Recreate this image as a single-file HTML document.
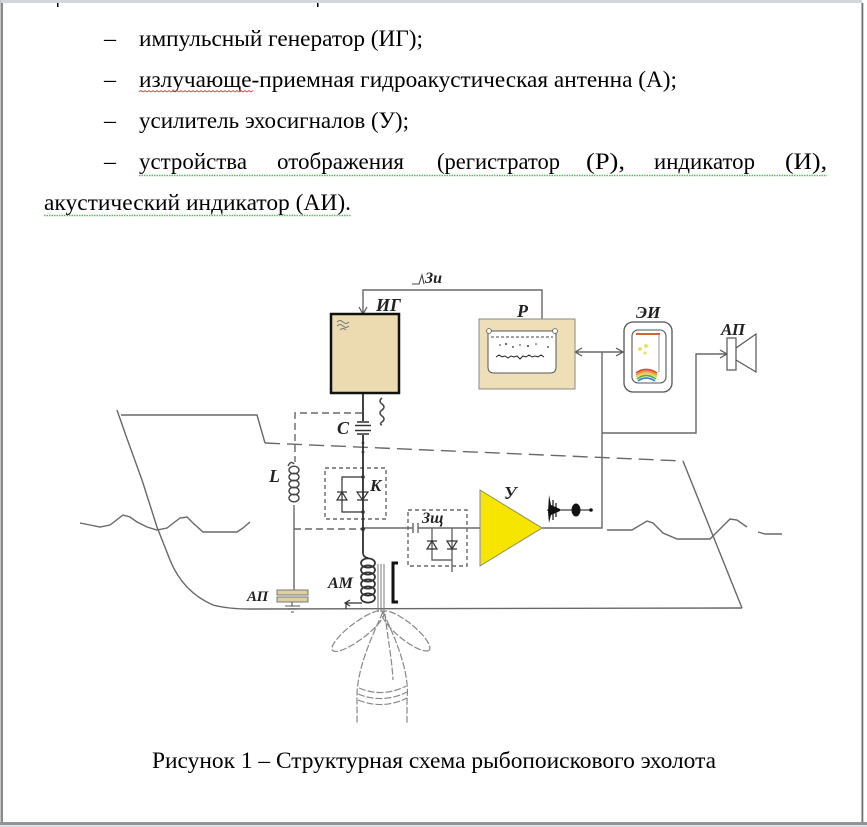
<!DOCTYPE html>
<html><head><meta charset="utf-8"><style>
html,body{margin:0;padding:0;background:#fff;}
svg{display:block;}
.t{font-family:"Liberation Serif","Noto Serif CJK SC",serif;font-size:23px;fill:#000;}
.l{font-family:"Liberation Serif",serif;font-weight:bold;font-style:italic;fill:#222;}
</style></head><body>
<svg width="867" height="827" viewBox="0 0 867 827" xmlns="http://www.w3.org/2000/svg">
<rect width="867" height="827" fill="#fff"/>
<!-- page frame -->
<rect x="0" y="0" width="862" height="3" fill="#d3d6dc"/>
<rect x="0" y="0" width="1" height="822" fill="#c4c4c4"/>
<rect x="1" y="3" width="2" height="819" fill="#8a8a8a"/>
<rect x="861.5" y="3" width="1.8" height="819" fill="#6e6e6e"/>
<rect x="0" y="822" width="867" height="3" fill="#8f959c"/>
<rect x="0" y="825" width="867" height="2" fill="#dde1e6"/>
<!-- cut-off line fragments -->
<rect x="57" y="3" width="1.5" height="4" fill="#000"/>
<rect x="317" y="3" width="1.5" height="4" fill="#000"/>

<!-- text -->
<g class="t">
<text x="104" y="46" textLength="12" lengthAdjust="spacingAndGlyphs">–</text>
<text x="139" y="46" textLength="284" lengthAdjust="spacingAndGlyphs">импульсный генератор (ИГ);</text>
<text x="104" y="87" textLength="12" lengthAdjust="spacingAndGlyphs">–</text>
<text x="139" y="87" textLength="538" lengthAdjust="spacingAndGlyphs">излучающе-приемная гидроакустическая антенна (А);</text>
<text x="104" y="128" textLength="12" lengthAdjust="spacingAndGlyphs">–</text>
<text x="139" y="128" textLength="270" lengthAdjust="spacingAndGlyphs">усилитель эхосигналов (У);</text>
<text x="104" y="169" textLength="12" lengthAdjust="spacingAndGlyphs">–</text>
<text x="139" y="169" textLength="108" lengthAdjust="spacingAndGlyphs">устройства</text>
<text x="277" y="169" textLength="127" lengthAdjust="spacingAndGlyphs">отображения</text>
<text x="437" y="169" textLength="123" lengthAdjust="spacingAndGlyphs">(регистратор</text>
<text x="586" y="169" textLength="39" lengthAdjust="spacingAndGlyphs">(Р),</text>
<text x="654" y="169" textLength="101" lengthAdjust="spacingAndGlyphs">индикатор</text>
<text x="785" y="169" textLength="42" lengthAdjust="spacingAndGlyphs">(И),</text>
<text x="44" y="210" textLength="307" lengthAdjust="spacingAndGlyphs">акустический индикатор (АИ).</text>
<text x="152" y="768" textLength="564" lengthAdjust="spacingAndGlyphs">Рисунок 1 – Структурная схема рыбопоискового эхолота</text>
</g>
<!-- spell underline squiggles -->
<path d="M139,92 l2,-1.5 l2,1.5 l2,-1.5 l2,1.5 l2,-1.5 l2,1.5 l2,-1.5 l2,1.5 l2,-1.5 l2,1.5 l2,-1.5 l2,1.5 l2,-1.5 l2,1.5 l2,-1.5 l2,1.5 l2,-1.5 l2,1.5 l2,-1.5 l2,1.5 l2,-1.5 l2,1.5 l2,-1.5 l2,1.5 l2,-1.5 l2,1.5 l2,-1.5 l2,1.5 l2,-1.5 l2,1.5 l2,-1.5 l2,1.5 l2,-1.5 l2,1.5 l2,-1.5 l2,1.5 l2,-1.5 l2,1.5 l2,-1.5 l2,1.5 l2,-1.5 l2,1.5 l2,-1.5 l2,1.5 l2,-1.5 l2,1.5 l2,-1.5 l2,1.5 l2,-1.5 l2,1.5 l2,-1.5 l2,1.5 l2,-1.5 l2,1.5 l2,-1.5 l2,1.5 l2,-1.5" fill="none" stroke="#e04040" stroke-width="0.8"/>
<line x1="139" y1="175.5" x2="827" y2="175.5" stroke="#5fb85f" stroke-width="1.5" stroke-dasharray="1.5,1"/>
<line x1="44" y1="215.5" x2="351" y2="215.5" stroke="#5fb85f" stroke-width="1.5" stroke-dasharray="1.5,1"/>

<!-- DIAGRAM -->
<g fill="none" stroke="#686868" stroke-width="1.4">
 <!-- hull -->
 <path d="M117,410 L125,433 L142,480 L157,527 L170,560 Q183,592 213,605 Q228,609 250,609 L742,608"/>
 <path d="M121,415 H257 L265,443"/>
 <path d="M265,443 L683,461" stroke-dasharray="15,7"/>
 <path d="M683,461 L742,608"/>
 <!-- waves -->
 <path d="M80,523 L90,525 L100,527 L110,525 L123,515 L130,517 L137,522 L147,527 L157,530 L167,528 L180,518 L187,517 L193,523 L203,532 L217,532 L237,532 L243,528 L250,522"/>
 <path d="M607,530 L632,530 L647,521 L653,523 L663,533 L677,539 L710,539 L717,532 L730,519 L737,520 L747,527"/>
 <path d="M758,532 L765,534 L782,534"/>
 <!-- top link IG - P -->
 <path d="M542,319 V290 H363 V313"/>
 <!-- P <-> EI -->
 <path d="M575,352 H623"/>
 <path d="M602,352 V528 H542"/>
 <path d="M602,433 H696 V354 H727"/>
 <!-- dashed boxes/lines -->
 <path d="M362,413 H295 V462" stroke-dasharray="7,4"/>
 <path d="M294,529 H362" stroke-dasharray="7,4"/>
 <rect x="325" y="468" width="61" height="51" stroke-dasharray="4,3"/>
 <rect x="408" y="510" width="59" height="56" stroke-dasharray="4,3"/>
 <!-- L line -->
 <path d="M294,505 V590"/>
 <!-- signal line -->
 <path d="M363,528 H413 M418,528 H480"/>
 <path d="M413,523 V533 M418,523 V533"/>
 <path d="M432,528 V560 H452 V528 M452,560 V572"/>
</g>
<!-- arrowheads -->
<g fill="none" stroke="#555" stroke-width="1.2">
 <path d="M359,307 L363,314 L367,307"/>
 <path d="M582,348 L575,352 L582,356"/>
 <path d="M616,348 L623,352 L616,356"/>
 <path d="M720,350 L727,354 L720,358"/>
</g>
<!-- main vertical -->
<path d="M363,393 V421 M363,435 V553" stroke="#222" stroke-width="1.7" fill="none"/>
<!-- C -->
<g stroke="#333" stroke-width="1.5">
 <line x1="357" y1="422" x2="369" y2="422"/>
 <line x1="355" y1="425.5" x2="371" y2="425.5"/>
 <line x1="355" y1="430.5" x2="371" y2="430.5"/>
 <line x1="357" y1="434" x2="369" y2="434"/>
</g>
<g fill="#333">
 <circle cx="363" cy="443" r="1.4"/><circle cx="363" cy="452" r="1.4"/>
 <circle cx="363" cy="477" r="1.8"/><circle cx="363" cy="512" r="1.8"/><circle cx="363" cy="529" r="2"/>
</g>
<!-- pulse icon -->
<path d="M382,398 q-4,3 0,6 q4,3 0,6 q-4,3 0,6 q4,3 0,6 q-3,2 0,3" fill="none" stroke="#444" stroke-width="1.5"/>
<!-- K contents -->
<g fill="none" stroke="#333" stroke-width="1.2">
 <path d="M363,477 H342 V512 H363"/>
 <path d="M337,492 H347 M337,500 H347 L342,492 Z"/>
 <path d="M357,492 H368 L362.5,500 Z M357,500 H368"/>
 <!-- Зщ diodes -->
 <path d="M427,541 H437 M427,549 H437 L432,541 Z"/>
 <path d="M447,541 H457 L452,549 Z M447,549 H457"/>
</g>
<!-- L coil -->
<g fill="none" stroke="#444" stroke-width="1.4">
 <path d="M288,466 q3,-6 6,-2"/>
 <ellipse cx="294" cy="470" rx="5" ry="3.8"/>
 <ellipse cx="294" cy="477" rx="5" ry="3.8"/>
 <ellipse cx="294" cy="484" rx="5" ry="3.8"/>
 <ellipse cx="294" cy="491" rx="5" ry="3.8"/>
 <ellipse cx="294" cy="498" rx="5" ry="3.8"/>
</g>
<!-- AP capacitor -->
<rect x="277" y="590" width="31" height="5" fill="#ddd0a0" stroke="#777" stroke-width="1"/>
<rect x="277" y="597" width="31" height="5" fill="#ddd0a0" stroke="#777" stroke-width="1"/>
<path d="M292,602 V606 M285,606 H300 M288,609 H297 M291,612 H294" stroke="#555" stroke-width="1.1"/>
<!-- AM coil -->
<g fill="none" stroke="#333" stroke-width="1.7">
 <path d="M363,553 q0,4 5,5"/>
 <ellipse cx="368" cy="563" rx="7" ry="4.6"/>
 <ellipse cx="368" cy="570" rx="7" ry="4.6"/>
 <ellipse cx="368" cy="577" rx="7" ry="4.6"/>
 <ellipse cx="368" cy="584" rx="7" ry="4.6"/>
 <ellipse cx="368" cy="591" rx="7" ry="4.6"/>
 <ellipse cx="368" cy="598" rx="7" ry="4.6"/>
</g>
<path d="M378,564 V612 M381,564 V612 M384,564 V612" stroke="#777" stroke-width="1"/>
<path d="M398,563 H393 V602 H398" fill="none" stroke="#111" stroke-width="3"/>
<path d="M362,603 H346 V609 M350,600 L345,603 L350,606" fill="none" stroke="#333" stroke-width="1.2"/>
<!-- beam pattern -->
<g fill="none" stroke="#888" stroke-width="1.2" stroke-dasharray="7,2">
 <ellipse cx="358" cy="631" rx="32" ry="8.5" transform="rotate(-37 358 631)"/>
 <ellipse cx="406" cy="631" rx="30" ry="8.5" transform="rotate(39 406 631)"/>
 <path d="M383,612 C370,640 356,672 357,700 L357,723"/>
 <path d="M383,612 C396,640 410,672 407,700 L407,723"/>
 <path d="M385,614 C388,640 392,660 393,680"/>
 <path d="M359,688 Q383,698 406,686"/>
 <path d="M358,694 Q383,704 407,692"/>
 <path d="M358,700 Q383,710 407,698"/>
</g>
<!-- IG box -->
<rect x="331" y="314" width="68" height="79" fill="#ecdbb0" stroke="#111" stroke-width="2.5"/>
<path d="M337,322 q3,-3 6,0 q3,3 6,0 M337,326 q3,-3 6,0 q3,3 6,0 M340,330 q3,-3 6,0" fill="none" stroke="#777" stroke-width="0.9"/>
<!-- P box -->
<rect x="479" y="319" width="96" height="70" fill="#efdfb6" stroke="#888" stroke-width="1"/>
<path d="M488,331 H556 V367 Q556,373 550,373 H494 Q488,373 488,367 Z" fill="#fff" stroke="#555" stroke-width="1"/>
<circle cx="489" cy="331" r="2.4" fill="#fff" stroke="#555" stroke-width="0.8"/>
<circle cx="555" cy="331" r="2.4" fill="#fff" stroke="#555" stroke-width="0.8"/>
<path d="M491,337 H553" stroke="#444" stroke-width="1" stroke-dasharray="3,2"/>
<g fill="#333"><circle cx="500" cy="345" r="0.8"/><circle cx="506" cy="344" r="1"/><circle cx="513" cy="347" r="0.9"/><circle cx="520" cy="345" r="0.8"/><circle cx="528" cy="346" r="1"/><circle cx="536" cy="344" r="0.8"/><circle cx="548" cy="347" r="0.9"/></g>
<path d="M496,357 l3,-2 l3,2 l3,-1 l3,2 l3,-2 l3,1 l3,-1 l3,3 l3,-3 l3,1 l3,-2 l3,2 l3,-1 l3,1 l3,-2 l3,2" fill="none" stroke="#222" stroke-width="1"/>
<!-- EI -->
<rect x="624" y="322" width="48" height="70" rx="9" fill="#fff" stroke="#555" stroke-width="1.3"/>
<rect x="632" y="330" width="34" height="53" rx="6" fill="#fff" stroke="#555" stroke-width="1.1"/>
<path d="M636,334 H660" stroke="#d9603a" stroke-width="2"/>
<path d="M659,334 V372" stroke="#888" stroke-width="0.9"/>
<g fill="#e8e070"><circle cx="640" cy="349" r="2"/><circle cx="646" cy="346" r="2"/><circle cx="645" cy="353" r="1.6"/></g>
<path d="M636,373 Q646,366 657,373" fill="none" stroke="#e04030" stroke-width="1.6"/>
<path d="M636,375 Q646,368 657,375" fill="none" stroke="#f09030" stroke-width="1.6"/>
<path d="M636,377 Q646,370 657,377" fill="none" stroke="#e8d040" stroke-width="1.6"/>
<path d="M637,379 Q646,372 656,379" fill="none" stroke="#50b050" stroke-width="1.6"/>
<path d="M638,381 Q646,375 655,381" fill="none" stroke="#4080d0" stroke-width="1.6"/>
<!-- speaker -->
<rect x="727" y="338" width="9" height="32" fill="#fff" stroke="#555" stroke-width="1.2"/>
<path d="M736,348 L756,334 L756,372 L736,360" fill="none" stroke="#555" stroke-width="1.2"/>
<!-- amplifier -->
<polygon points="480,490 480,566 542,528" fill="#f6e500" stroke="#888" stroke-width="1"/>
<!-- echo glyph -->
<path d="M547,510 H592" stroke="#111" stroke-width="1"/>
<path d="M549,495 L551,505 L560,509 L560,511 L551,515 L549,523 L548,512 Z" fill="#111"/>
<path d="M553,500 V520 M556,503 V517" stroke="#111" stroke-width="1.2"/>
<ellipse cx="576" cy="510" rx="4.5" ry="6.5" fill="#111"/>
<circle cx="591" cy="510" r="1.8" fill="#111"/>
<!-- Зи pulse -->
<path d="M412,284 H419 L422,275 L424,284" fill="none" stroke="#444" stroke-width="1.1"/>
<!-- labels -->
<g class="l">
 <text x="425" y="283" font-size="16">Зи</text>
 <text x="376" y="311" font-size="18">ИГ</text>
 <text x="517" y="317" font-size="18">Р</text>
 <text x="636" y="318" font-size="17">ЭИ</text>
 <text x="721" y="335" font-size="17">АП</text>
 <text x="337" y="434" font-size="18">C</text>
 <text x="370" y="491" font-size="17">K</text>
 <text x="269" y="482" font-size="18">L</text>
 <text x="422" y="523" font-size="16">Зщ</text>
 <text x="504" y="499" font-size="18">У</text>
 <text x="328" y="588" font-size="16">АМ</text>
 <text x="247" y="601" font-size="15">АП</text>
</g>
</svg>
</body></html>
